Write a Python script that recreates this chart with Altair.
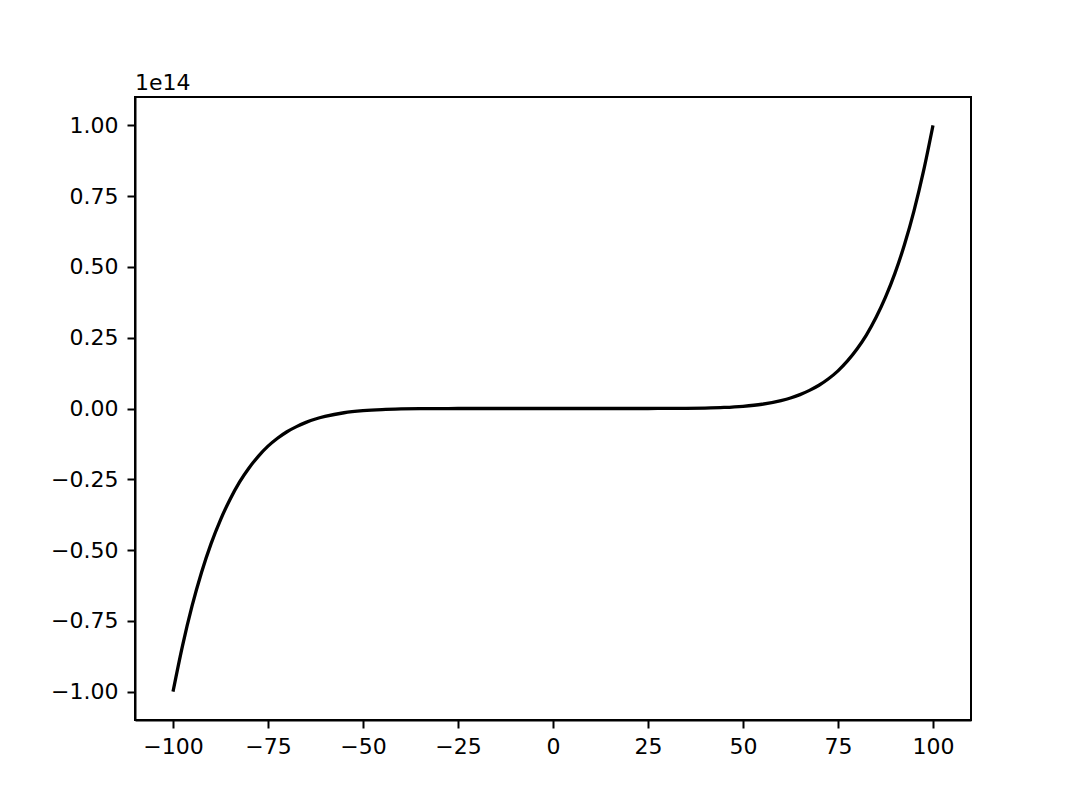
import altair as alt
import pandas as pd

# x values and y values (in units of 1e14)
xs = [-100, -97.5, -95, -92.5, -90, -87.5, -85, -82.5, -80, -77.5, -75, -72.5, -70,
      -67.5, -65, -62.5, -60, -55, -50, -45, -40, -35, -30, -25, -20, -10, 0,
      10, 20, 25, 30, 35, 40, 45, 50, 55, 60, 62.5, 65, 67.5, 70, 72.5, 75,
      77.5, 80, 82.5, 85, 87.5, 90, 92.5, 95, 97.5, 100]
ys = [-1.000, -0.838, -0.698, -0.579, -0.478, -0.393, -0.321, -0.260, -0.210, -0.168,
      -0.133, -0.105, -0.082, -0.064, -0.049, -0.037, -0.028, -0.015, -0.0078, -0.0037,
      -0.0016, -0.0006, -0.0002, -0.00006, -0.00001, 0.0, 0.0,
      0.0, 0.00001, 0.00006, 0.0002, 0.0006, 0.0016, 0.0037, 0.0078, 0.015, 0.028,
      0.037, 0.049, 0.064, 0.082, 0.105, 0.133, 0.168, 0.210, 0.260, 0.321, 0.393,
      0.478, 0.579, 0.698, 0.838, 1.000]
x_ticks = [-100, -75, -50, -25, 0, 25, 50, 75, 100]
y_ticks = [-1.0, -0.75, -0.5, -0.25, 0.0, 0.25, 0.5, 0.75, 1.0]
offset_label = ["1e14"]

df = pd.DataFrame({"x": xs, "y": ys})
FONT = "DejaVu Sans"

line = alt.Chart(df).mark_line(color="black", strokeWidth=3.3, interpolate="monotone").encode(
    x=alt.X("x:Q", scale=alt.Scale(domain=[-110, 110], nice=False, zero=False),
            axis=alt.Axis(values=x_ticks, title=None,
                          labelExpr="replace(format(datum.value, 'd'), '-', '\u2212')")),
    y=alt.Y("y:Q", scale=alt.Scale(domain=[-1.1, 1.1], nice=False, zero=False),
            axis=alt.Axis(values=y_ticks, title=None,
                          labelExpr="replace(format(datum.value, '.2f'), '-', '\u2212')")),
)

offset = alt.Chart(pd.DataFrame({"t": offset_label})).mark_text(
    align="left", baseline="alphabetic", fontSize=22, font=FONT, color="black"
).encode(x=alt.value(0), y=alt.value(-7), text="t:N")

chart = alt.layer(line, offset).properties(
    width=836, height=623,
    autosize=alt.AutoSizeParams(type="none"),
    padding={"left": 127, "top": 89, "right": 100, "bottom": 80},
).configure_view(
    stroke="black", strokeWidth=2
).configure_axis(
    grid=False, domain=True, domainColor="black", domainWidth=2,
    ticks=True, tickColor="black", tickWidth=2, tickSize=8,
    labelFont=FONT, labelFontSize=22, labelColor="black", labelPadding=8,
).configure_axisY(labelPadding=9)

chart.save("out.html", embed_options={"renderer": "svg", "actions": False})
